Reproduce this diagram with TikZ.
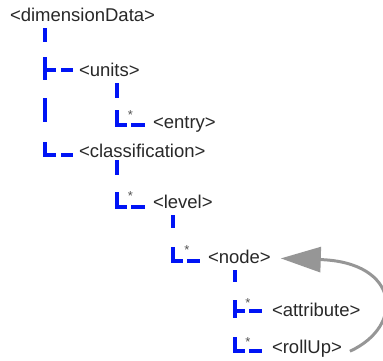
\documentclass[tikz,border=0pt]{standalone}
\usepackage{fontspec}
\setmainfont{Liberation Sans}
\usetikzlibrary{arrows.meta}
\definecolor{treeblue}{RGB}{0,20,245}
\definecolor{txt}{RGB}{40,40,40}
\definecolor{arrgray}{RGB}{150,150,150}
\begin{document}
\begin{tikzpicture}[x=1pt,y=-1pt,
  lbl/.style={anchor=base west,inner sep=0pt,outer sep=0pt,text=txt,font=\fontsize{18.5}{21}\selectfont},
  star/.style={inner sep=0pt,text=txt!80,font=\fontsize{13}{14}\selectfont},
  tree/.style={draw=treeblue,line width=4pt,line cap=butt},
  back/.style={draw=arrgray,line width=3pt,-{Triangle[length=40pt,width=25pt]}}]
\useasboundingbox (0,0) rectangle (383,360);
% labels
\node[lbl] (dd) at (10,21.5) {<dimensionData>};
\node[lbl] (un) at (79,76) {<units>};
\node[lbl] (en) at (153,128) {<entry>};
\node[lbl] (cl) at (79,157) {<classification>};
\node[lbl] (lv) at (153,208) {<level>};
\node[lbl] (nd) at (208,263) {<node>};
\node[lbl] (at) at (272,316) {<attribute>};
\node[lbl] (ru) at (272,353) {<rollUp>};
% stars
\node[star] (s1) at (130.5,115) {*};
\node[star] (s2) at (130.5,196) {*};
\node[star] (s3) at (187,250) {*};
\node[star] (s4) at (248,303) {*};
\node[star] (s5) at (248,342) {*};
% trunk
\path[tree] (45,28) -- (45,42);
\path[tree] (45,57) -- (45,80);
\path[tree] (43,70) -- (56,70) (61,70) -- (73,70);
\path[tree] (45,98) -- (45,122);
\path[tree] (45,142) -- (45,155) -- (56,155) (61,155) -- (73,155);
% units subtree
\path[tree] (117,83) -- (117,98);
\path[tree] (117,110) -- (117,125) -- (127,125) (131,125) -- (145,125);
% classification subtree
\path[tree] (117,160) -- (117,175);
\path[tree] (117,192) -- (117,207) -- (127,207) (131,207) -- (145,207);
% level subtree
\path[tree] (173,215) -- (173,228);
\path[tree] (173,247) -- (173,261) -- (183,261) (187,261) -- (200,261);
% node subtree
\path[tree] (235,270) -- (235,282);
\path[tree] (235,300) -- (235,318);
\path[tree] (233,311) -- (245,311) (249,311) -- (262,311);
\path[tree] (235,337) -- (235,351) -- (245,351) (249,351) -- (262,351);
% recursion arrow
\path[back] ([xshift=8pt,yshift=-3pt]ru.east) .. controls (405,326) and (400,262) .. ([xshift=10pt,yshift=-2pt]nd.east);
\end{tikzpicture}
\end{document}
